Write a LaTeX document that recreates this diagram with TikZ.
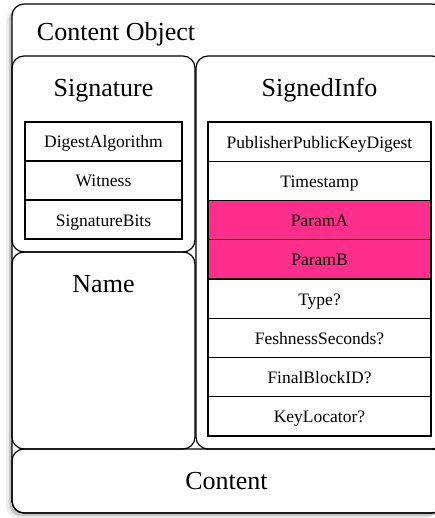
\documentclass[tikz,border=0pt]{standalone}
\usepackage{fontspec}
\setmainfont{Liberation Serif}
\usetikzlibrary{shadows}

\definecolor{parampink}{RGB}{255,46,140}

\tikzset{
  bigtext/.style={font=\fontsize{26}{30}\selectfont},
  smalltext/.style={font=\fontsize{17.5}{20}\selectfont},
  roundbox/.style={draw, line width=1.2pt, rounded corners=12pt, inner sep=0pt},
  field/.style={draw, line width=1.2pt, inner sep=0pt, minimum height=39.25pt,
                text height=14pt, text depth=1pt, smalltext},
}

\begin{document}
\begin{tikzpicture}[x=1pt, y=-1pt]
  \useasboundingbox (0,0) rectangle (435,518);

  \node[roundbox, fill=white, minimum width=432pt, minimum height=509pt,
        drop shadow={shadow xshift=-6pt, shadow yshift=-5pt, opacity=0.15},
        drop shadow={shadow xshift=-3pt, shadow yshift=-3pt, opacity=0.35}] (co) at (228,258.5) {};
  \node[bigtext] (colabel) at (116,34) {Content Object};

  \node[roundbox, minimum width=183pt, minimum height=196pt] (sig) at (103.5,154) {};
  \node[roundbox, minimum width=183pt, minimum height=197pt] (name) at (103.5,350.5) {};
  \node[roundbox, minimum width=248pt, minimum height=393pt] (si) at (320,252.5) {};
  \node[roundbox, minimum width=432pt, minimum height=64pt] (content) at (228,481) {};

  \node[bigtext] (siglabel) at (103.5,91) {Signature};
  \node[bigtext] (namelabel) at (103.5,284) {Name};
  \node[bigtext] (silabel) at (319.5,90) {SignedInfo};
  \node[bigtext] (contentlabel) at (226.5,481) {Content};

  % Signature fields
  \node[field, minimum width=157pt, minimum height=39pt] (digest) at (103.5,141.5) {DigestAlgorithm};
  \node[field, minimum width=157pt, minimum height=39pt] (witness) at (103.5,180.5) {Witness};
  \node[field, minimum width=157pt, minimum height=39pt] (bits) at (103.5,219.5) {SignatureBits};

  % SignedInfo fields
  \node[field, minimum width=223pt] (pkd) at (319.5,141.6) {PublisherPublicKeyDigest};
  \node[field, minimum width=223pt] (ts) at (319.5,180.9) {Timestamp};
  \node[field, minimum width=223pt, fill=parampink] (pa) at (319.5,220.1) {ParamA};
  \node[field, minimum width=223pt, fill=parampink] (pb) at (319.5,259.4) {ParamB};
  \node[field, minimum width=223pt] (type) at (319.5,298.6) {Type?};
  \node[field, minimum width=223pt] (fresh) at (319.5,337.9) {FeshnessSeconds?};
  \node[field, minimum width=223pt] (fbid) at (319.5,377.1) {FinalBlockID?};
  \node[field, minimum width=223pt] (kl) at (319.5,416.4) {KeyLocator?};
\end{tikzpicture}
\end{document}
